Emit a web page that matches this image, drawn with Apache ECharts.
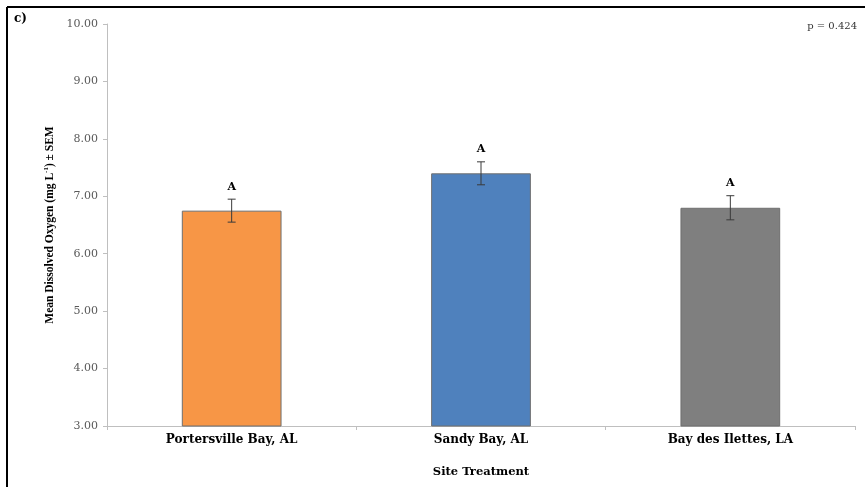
<!DOCTYPE html>
<html>
<head>
<meta charset="utf-8">
<script src="https://cdn.jsdelivr.net/npm/echarts@6/dist/echarts.min.js"></script>
<style>
  html, body { margin: 0; padding: 0; background: #fff; }
  #chart { width: 865px; height: 487px; }
</style>
</head>
<body>
<div id="chart"></div>
<script>
// Mean dissolved oxygen by site, with standard error and significance letters
const sites = ['Portersville Bay, AL', 'Sandy Bay, AL', 'Bay des Ilettes, LA'];
const meanDO = [6.75, 7.40, 6.80];
const semDO = [0.20, 0.20, 0.21];
const groupLetters = ['A', 'A', 'A'];
const barColors = ['#F79646', '#4F81BD', '#7F7F7F'];
const yTicks = { min: 3, max: 10, step: 1 };

const serif = '"DejaVu Serif", "Liberation Serif", serif';
const tnr = '"Liberation Serif", "DejaVu Serif", serif';

const chart = echarts.init(document.getElementById('chart'));

chart.setOption({
  animation: false,
  grid: { left: 107, right: 10, top: 24, bottom: 61 },
  graphic: [
    // panel frame (top and left edges)
    { type: 'line', shape: { x1: 7, y1: 7, x2: 865, y2: 7 }, style: { stroke: '#000', lineWidth: 2 } },
    { type: 'line', shape: { x1: 7, y1: 7, x2: 7, y2: 487 }, style: { stroke: '#000', lineWidth: 2 } },
    { type: 'text', left: 14, top: 13, style: { text: 'c)', font: 'bold 12px ' + serif, fill: '#000' } },
    { type: 'text', right: 8, top: 21, style: { text: 'p = 0.424', font: '10px ' + serif, fill: '#333' } }
  ],
  xAxis: {
    type: 'category',
    data: sites,
    name: 'Site Treatment',
    nameLocation: 'middle',
    nameGap: 40,
    nameTextStyle: { fontFamily: serif, fontWeight: 'bold', fontSize: 11.5, color: '#000' },
    axisLine: { lineStyle: { color: '#bfbfbf', width: 1 } },
    axisTick: { show: true, length: 4, lineStyle: { color: '#bfbfbf' } },
    axisLabel: { fontFamily: serif, fontWeight: 'bold', fontSize: 12, color: '#000', margin: 8 }
  },
  yAxis: {
    type: 'value',
    min: yTicks.min,
    max: yTicks.max,
    interval: yTicks.step,
    name: '{t|Mean Dissolved Oxygen (mg L}{s|-1}{t|) ± SEM}',
    nameLocation: 'middle',
    nameGap: 49,
    nameRotate: 90,
    nameTextStyle: {
      rich: {
        t: { fontFamily: tnr, fontWeight: 'bold', fontSize: 11.5, color: '#000' },
        s: { fontFamily: tnr, fontWeight: 'bold', fontSize: 7, color: '#000', verticalAlign: 'top', padding: [0, 0, 6, 0] }
      }
    },
    axisLine: { show: true, lineStyle: { color: '#bfbfbf', width: 1 } },
    axisTick: { show: true, length: 4, lineStyle: { color: '#bfbfbf' } },
    axisLabel: {
      fontFamily: serif, fontSize: 11, color: '#595959', margin: 9,
      formatter: v => v.toFixed(2)
    },
    splitLine: { show: false }
  },
  series: [
    {
      type: 'bar',
      barWidth: '40%',
      data: meanDO.map((v, i) => ({
        value: v,
        itemStyle: { color: barColors[i], borderColor: '#6f6f6f', borderWidth: 1 }
      })),
      z: 2
    },
    {
      type: 'custom',
      z: 3,
      data: meanDO.map((v, i) => [i, v - semDO[i], v + semDO[i]]),
      renderItem: function (params, api) {
        const lo = api.coord([api.value(0), api.value(1)]);
        const hi = api.coord([api.value(0), api.value(2)]);
        const x = lo[0];
        const cap = 4;
        const stroke = { stroke: '#3a3a3a', lineWidth: 1 };
        return {
          type: 'group',
          children: [
            { type: 'line', shape: { x1: x, y1: hi[1], x2: x, y2: lo[1] }, style: stroke },
            { type: 'line', shape: { x1: x - cap, y1: hi[1], x2: x + cap, y2: hi[1] }, style: stroke },
            { type: 'line', shape: { x1: x - cap, y1: lo[1], x2: x + cap, y2: lo[1] }, style: stroke },
            {
              type: 'text',
              style: {
                text: groupLetters[params.dataIndex],
                x: x, y: hi[1] - 7,
                textAlign: 'center', textVerticalAlign: 'bottom',
                font: 'bold 11px ' + serif, fill: '#000'
              }
            }
          ]
        };
      }
    }
  ]
});
</script>
</body>
</html>
